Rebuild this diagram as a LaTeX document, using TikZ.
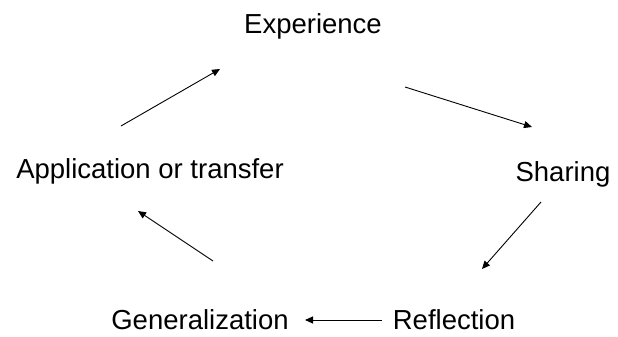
\documentclass[tikz,border=0pt]{standalone}
\usepackage{fontspec}
\setmainfont{Liberation Sans}
\usepackage{tikz}
\usetikzlibrary{arrows.meta}

\tikzset{
  stage/.style={anchor=base, inner sep=0pt, font=\fontsize{27.5}{32}\selectfont},
  cyc/.style={-{Triangle[length=8pt,width=7pt]}, line width=0.9pt}
}

\begin{document}
\begin{tikzpicture}[x=1pt, y=-1pt]
    \useasboundingbox (0,0) rectangle (618,337);
    \node[stage] (exp) at (313, 34) {Experience};
    \node[stage] (share) at (563, 181) {Sharing};
    \node[stage] (refl) at (454, 329) {Reflection};
    \node[stage] (gen) at (200, 329) {Generalization};
    \node[stage] (app) at (150, 178) {Application or transfer};
    \coordinate (as) at (121, 126);
    \coordinate (ae) at (220, 69);
    \coordinate (es) at (405, 87);
    \coordinate (ee) at (532, 127);
    \coordinate (ss) at (541, 202);
    \coordinate (se) at (482, 269);
    \coordinate (rs) at (382, 320);
    \coordinate (re) at (305, 320);
    \coordinate (gs) at (213, 261);
    \coordinate (ge) at (138, 211);
    \draw [cyc] (as) to (ae);
    \draw [cyc] (es) to (ee);
    \draw [cyc] (ss) to (se);
    \draw [cyc] (rs) to (re);
    \draw [cyc] (gs) to (ge);
  \end{tikzpicture}
\end{document}
